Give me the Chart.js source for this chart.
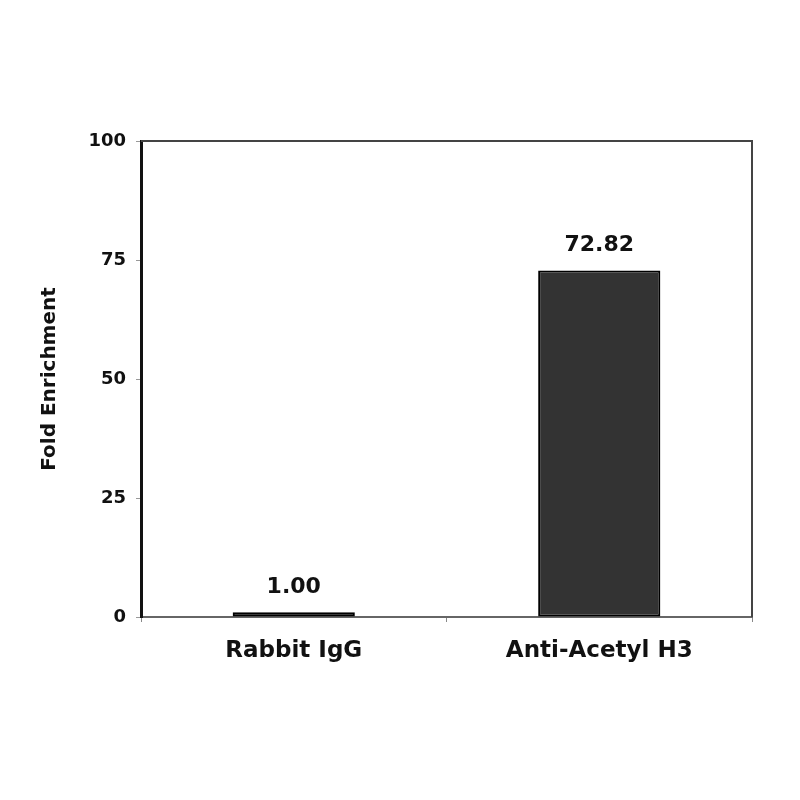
<!DOCTYPE html>
<html>
<head>
<meta charset="utf-8">
<script src="https://cdn.jsdelivr.net/npm/chart.js@4"></script>
<style>
html,body{margin:0;padding:0;background:#fff;}
#wrap{width:800px;height:800px;}
</style>
</head>
<body>
<div id="wrap"><canvas id="c" width="800" height="800"></canvas></div>
<script>
const categories = ["Rabbit IgG", "Anti-Acetyl H3"];
const values = [1.00, 72.82];
const valueLabels = ["1.00", "72.82"];
const yTicks = [0, 25, 50, 75, 100];
const yTitle = "Fold Enrichment";

const FONT = "'DejaVu Sans', Arial, sans-serif";

const framePlugin = {
  id: 'frame',
  afterDatasetsDraw(chart) {
    const {ctx, chartArea: a} = chart;
    ctx.save();
    ctx.strokeStyle = '#444';
    ctx.lineWidth = 2;
    ctx.beginPath();
    ctx.moveTo(a.left, a.top);
    ctx.lineTo(a.right, a.top);
    ctx.lineTo(a.right, a.bottom);
    ctx.stroke();
    ctx.restore();
  }
};

const labelPlugin = {
  id: 'valueLabels',
  afterDatasetsDraw(chart) {
    const {ctx} = chart;
    const meta = chart.getDatasetMeta(0);
    ctx.save();
    ctx.font = "bold 22px " + FONT;
    ctx.fillStyle = '#111';
    ctx.textAlign = 'center';
    ctx.textBaseline = 'alphabetic';
    meta.data.forEach((bar, i) => {
      ctx.fillText(valueLabels[i], bar.x, bar.y - 19);
    });
    ctx.restore();
  }
};

new Chart(document.getElementById('c'), {
  type: 'bar',
  data: {
    labels: categories,
    datasets: [{
      data: values,
      backgroundColor: '#333333',
      borderColor: '#000000',
      borderWidth: 2,
      borderSkipped: false,
      barPercentage: 0.4,
      categoryPercentage: 1.0
    }]
  },
  options: {
    responsive: false,
    animation: false,
    devicePixelRatio: 1,
    layout: { padding: { left: 0, top: 141, right: 48, bottom: 0 } },
    plugins: { legend: { display: false }, tooltip: { enabled: false } },
    scales: {
      x: {
        grid: {
          display: true,
          drawOnChartArea: false,
          drawTicks: true,
          tickLength: 5,
          color: '#888',
          offset: true
        },
        border: { display: true, color: '#666', width: 2 },
        ticks: {
          color: '#111',
          font: { family: FONT, size: 23, weight: 'bold' },
          padding: 15
        },
        afterFit(scale) { scale.height = 183; }
      },
      y: {
        min: 0,
        max: 100,
        afterBuildTicks(scale) { scale.ticks = yTicks.map(v => ({ value: v })); },
        grid: {
          display: true,
          drawOnChartArea: false,
          drawTicks: true,
          tickLength: 5,
          color: '#999'
        },
        border: { display: true, color: '#111', width: 3 },
        ticks: {
          color: '#111',
          font: { family: FONT, size: 18, weight: 'bold' },
          padding: 10
        },
        title: {
          display: true,
          text: yTitle,
          color: '#111',
          font: { family: FONT, size: 20, weight: 'bold' },
          padding: { top: 38, bottom: 0 }
        },
        afterFit(scale) { scale.width = 141; }
      }
    }
  },
  plugins: [framePlugin, labelPlugin]
});
</script>
</body>
</html>
